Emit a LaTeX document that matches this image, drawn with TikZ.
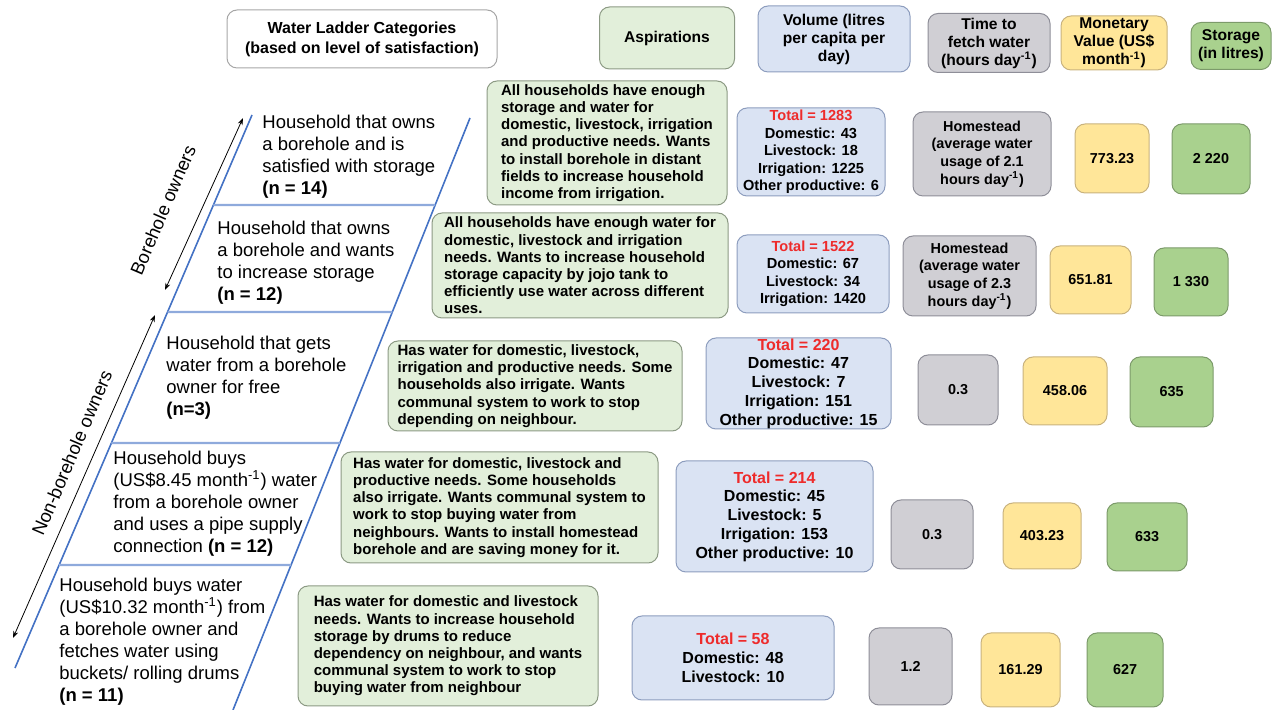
\documentclass[tikz,border=0pt]{standalone}
\usepackage{fontspec}
\setmainfont{Liberation Sans}
\usetikzlibrary{calc,arrows.meta}

\definecolor{aspFill}{HTML}{E2EFDA}
\definecolor{aspLine}{HTML}{8C9A84}
\definecolor{volFill}{HTML}{DAE3F3}
\definecolor{volLine}{HTML}{8D9DBE}
\definecolor{timeFill}{HTML}{D0CFD4}
\definecolor{timeLine}{HTML}{8E8E98}
\definecolor{monFill}{HTML}{FFE699}
\definecolor{monLine}{HTML}{C8B27E}
\definecolor{stoFill}{HTML}{A9D18E}
\definecolor{stoLine}{HTML}{7C9A6A}
\definecolor{catLine}{HTML}{A6A6A6}
\definecolor{ladBlue}{HTML}{4472C4}
\definecolor{rungBlue}{HTML}{8FAADC}
\definecolor{totRed}{HTML}{EE2B2B}

\tikzset{
  boxbase/.style={draw, rounded corners=5pt, line width=0.5pt, inner sep=0pt, align=center,
    font=\bfseries\fontsize{7.2}{8.8}\selectfont},
  boxsize/.style 2 args={minimum width=#1, minimum height=#2},
  headbox/.style={boxbase, font=\bfseries\fontsize{7.8}{9}\selectfont},
  aspbox/.style={boxbase, fill=aspFill, draw=aspLine, align=left,
    font=\bfseries\fontsize{7.5}{8.6}\selectfont},
  volbox/.style={boxbase, fill=volFill, draw=volLine, font=\bfseries\fontsize{7.3}{8.75}\selectfont},
  volboxbig/.style={volbox, font=\bfseries\fontsize{8}{9.4}\selectfont},
  timebox/.style={boxbase, fill=timeFill, draw=timeLine},
  monbox/.style={boxbase, fill=monFill, draw=monLine},
  stobox/.style={boxbase, fill=stoFill, draw=stoLine},
  steptext/.style={anchor=north west, align=left, inner sep=0pt, font=\fontsize{9.25}{11}\selectfont},
  railline/.style={draw=ladBlue, line width=0.8pt},
  rungline/.style={draw=rungBlue, line width=1.1pt},
  grouparrow/.style={{Stealth[length=3.5pt,width=2.5pt]}-{Stealth[length=3.5pt,width=2.5pt]}, line width=0.4pt},
  grouplabel/.style={rotate=66.8, inner sep=0pt, font=\fontsize{9.25}{11}\selectfont}
}
\newcommand{\tot}[1]{\textcolor{totRed}{Total = #1}}

\begin{document}
\begin{tikzpicture}[x=0.5pt, y=-0.5pt]
    \useasboundingbox (0,0) rectangle (1280,710);

    \coordinate (lt) at (252,115);
    \coordinate (lb) at (15,668);
    \coordinate (rt) at (470,118);
    \coordinate (rb) at (233,710);

    \draw[railline] (lt) -- (lb);
    \draw[railline] (rt) -- (rb);
    \foreach \y in {205,312,443,565}
        \draw[rungline] ($(lt)!{(\y-115)/553}!(lb)$) -- ($(rt)!{(\y-118)/592}!(rb)$);

    \node[steptext] (k1) at (262,115) {Household that owns\\a borehole and is\\satisfied with storage\\\textbf{(n = 14)}};
    \node[steptext] (k2) at (217,221) {Household that owns\\a borehole and wants\\to increase storage\\\textbf{(n = 12)}};
    \node[steptext] (k3) at (166,336) {Household that gets\\water from a borehole\\owner for free\\\textbf{(n=3)}};
    \node[steptext] (k4) at (113,451) {Household buys\\(US\$8.45 month\textsuperscript{-1}) water\\from a borehole owner\\and uses a pipe supply\\connection \textbf{(n = 12)}};
    \node[steptext] (k5) at (59,578) {Household buys water\\(US\$10.32 month\textsuperscript{-1}) from\\a borehole owner and\\fetches water using\\buckets/ rolling drums\\\textbf{(n = 11)}};

    \coordinate (bo1) at (243,118);
    \coordinate (bo2) at (165,290);
    \draw[grouparrow] (bo1) -- (bo2);
    \node[grouplabel] (bo) at (163,210) {Borehole owners};
    \coordinate (nb1) at (155,315);
    \coordinate (nb2) at (13,638);
    \draw[grouparrow] (nb1) -- (nb2);
    \node[grouplabel] (nb) at (72,453) {Non-borehole owners};

    \node[headbox, boxsize={135pt}{29pt}, fill=white, draw=catLine, font=\bfseries\fontsize{8}{10}\selectfont] (hcat) at (362,39) {Water Ladder Categories\\(based on level of satisfaction)};
    \node[headbox, boxsize={67.5pt}{31pt}, fill=aspFill, draw=aspLine] (hasp) at (667,38) {Aspirations};
    \node[headbox, boxsize={76pt}{33pt}, fill=volFill, draw=volLine] (hvol) at (834,39) {Volume (litres\\per capita per\\day)};
    \node[headbox, boxsize={61pt}{29.5pt}, fill=timeFill, draw=timeLine] (htime) at (989,43) {Time to\\fetch water\\(hours day\textsuperscript{-1})};
    \node[headbox, boxsize={53pt}{27pt}, fill=monFill, draw=monLine] (hmon) at (1114,43) {Monetary\\Value (US\$\\month\textsuperscript{-1})};
    \node[headbox, boxsize={40pt}{23.5pt}, fill=stoFill, draw=stoLine] (hsto) at (1231,46) {Storage\\(in litres)};

    \node[aspbox, boxsize={120pt}{62pt}] (a1) at (607,143) {All households have enough\\storage and water for\\domestic, livestock, irrigation\\and productive needs. Wants\\to install borehole in distant\\fields to increase household\\income from irrigation.};
    \node[volbox, boxsize={74pt}{44pt}] (v1) at (811,152) {\tot{1283}\\Domestic: 43\\Livestock: 18\\Irrigation: 1225\\Other productive: 6};
    \node[timebox, boxsize={69pt}{42pt}] (t1) at (982,154) {Homestead\\(average water\\usage of 2.1\\hours day\textsuperscript{-1})};
    \node[monbox, boxsize={37pt}{34.5pt}] (m1) at (1112,158.5) {773.23};
    \node[stobox, boxsize={39pt}{35pt}] (s1) at (1211,159) {2 220};

    \node[aspbox, boxsize={148pt}{52.5pt}] (a2) at (580,265.5) {All households have enough water for\\domestic, livestock and irrigation\\needs. Wants to increase household\\storage capacity by jojo tank to\\efficiently use water across different\\uses.};
    \node[volbox, boxsize={76pt}{39pt}] (v2) at (813,274) {\tot{1522}\\Domestic: 67\\Livestock: 34\\Irrigation: 1420};
    \node[timebox, boxsize={66.5pt}{40pt}] (t2) at (969.5,276) {Homestead\\(average water\\usage of 2.3\\hours day\textsuperscript{-1})};
    \node[monbox, boxsize={40.5pt}{34pt}] (m2) at (1090.5,280) {651.81};
    \node[stobox, boxsize={37pt}{34pt}] (s2) at (1191,282) {1 330};

    \node[aspbox, boxsize={147pt}{45pt}] (a3) at (535,386) {Has water for domestic, livestock,\\irrigation and productive needs. Some\\households also irrigate. Wants\\communal system to work to stop\\depending on neighbour.};
    \node[volboxbig, boxsize={92.5pt}{45.5pt}] (v3) at (798.5,383.5) {\tot{220}\\Domestic: 47\\Livestock: 7\\Irrigation: 151\\Other productive: 15};
    \node[timebox, boxsize={40pt}{35pt}] (t3) at (958,390) {0.3};
    \node[monbox, boxsize={42pt}{34pt}] (m3) at (1065,391) {458.06};
    \node[stobox, boxsize={41.5pt}{35pt}] (s3) at (1171.5,392) {635};

    \node[aspbox, boxsize={158.5pt}{55.5pt}] (a4) at (499.5,507.5) {Has water for domestic, livestock and\\productive needs. Some households\\also irrigate. Wants communal system to\\work to stop buying water from\\neighbours. Wants to install homestead\\borehole and are saving money for it.};
    \node[volboxbig, boxsize={98.5pt}{55.5pt}] (v4) at (774.5,516.5) {\tot{214}\\Domestic: 45\\Livestock: 5\\Irrigation: 153\\Other productive: 10};
    \node[timebox, boxsize={41pt}{34.5pt}] (t4) at (932,534.5) {0.3};
    \node[monbox, boxsize={39pt}{33pt}] (m4) at (1042,536) {403.23};
    \node[stobox, boxsize={40pt}{34pt}] (s4) at (1147,537) {633};

    \node[aspbox, boxsize={150pt}{60pt}] (a5) at (448,646) {Has water for domestic and livestock\\needs. Wants to increase household\\storage by drums to reduce\\dependency on neighbour, and wants\\communal system to work to stop\\buying water from neighbour};
    \node[volboxbig, boxsize={101pt}{42pt}] (v5) at (733,658) {\tot{58}\\Domestic: 48\\Livestock: 10};
    \node[timebox, boxsize={41.5pt}{38.5pt}] (t5) at (910.5,666.5) {1.2};
    \node[monbox, boxsize={39.5pt}{37pt}] (m5) at (1020.5,670) {161.29};
    \node[stobox, boxsize={38pt}{37pt}] (s5) at (1125,670) {627};
\end{tikzpicture}
\end{document}
